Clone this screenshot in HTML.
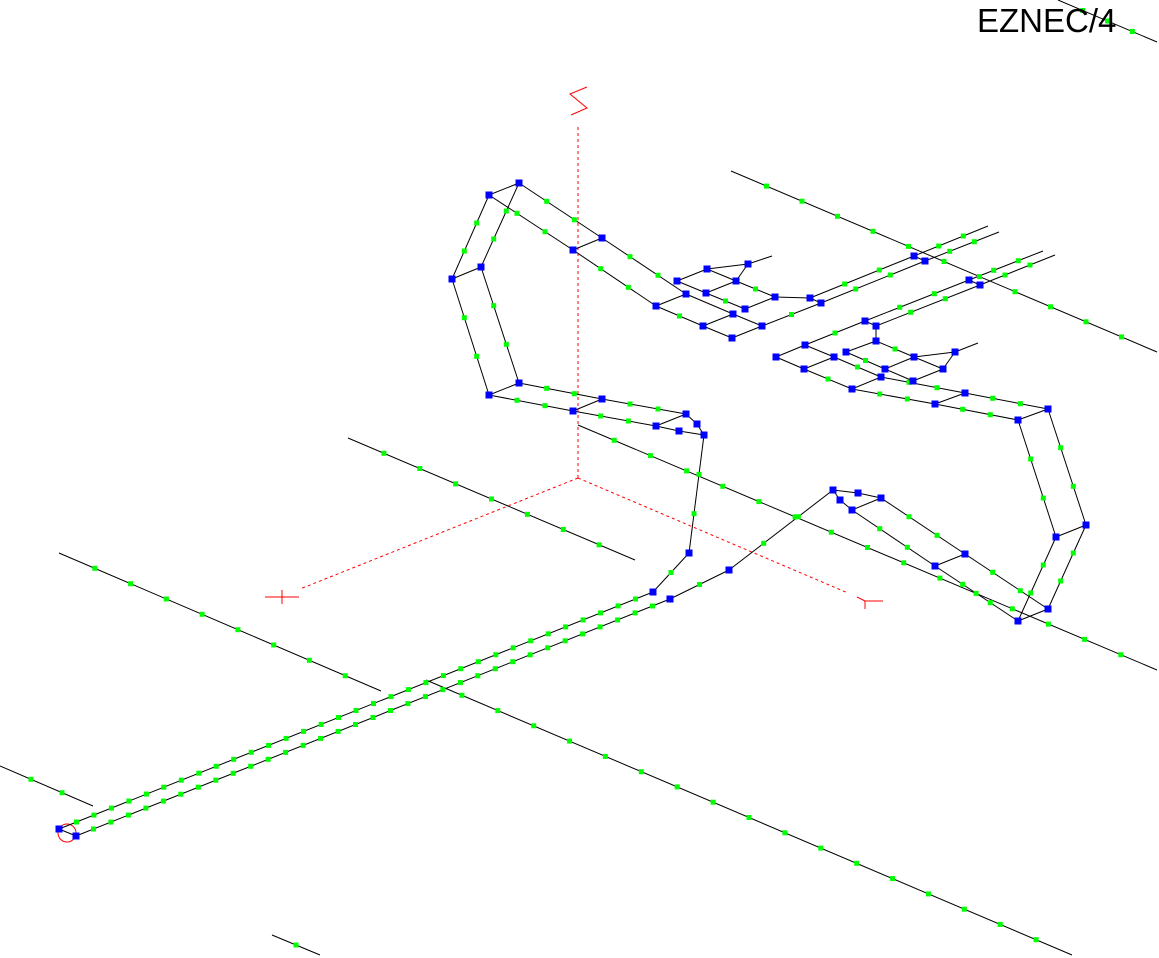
<!DOCTYPE html>
<html><head><meta charset="utf-8"><style>
html,body{margin:0;padding:0;background:#fff;width:1159px;height:958px;overflow:hidden}
svg{position:absolute;left:0;top:0}
.t{position:absolute;left:977px;top:2px;font-family:"Liberation Sans",sans-serif;font-size:33px;color:#000;letter-spacing:0px}
</style></head><body>
<svg id="s" width="1159" height="958" viewBox="0 0 1159 958">
<g stroke="#f00" stroke-width="1" fill="none">
<line x1="578" y1="127" x2="578" y2="478" stroke-dasharray="3,3"/>
<line x1="578" y1="478" x2="300" y2="589" stroke-dasharray="3,3"/>
<line x1="578" y1="478" x2="848" y2="593" stroke-dasharray="3,3"/>
<polyline points="587,87 570,94 587,108 571,115"/>
<line x1="265" y1="597" x2="299" y2="597"/><line x1="282" y1="590" x2="282" y2="604"/>
<polyline points="857,597 865,601 883,601"/><line x1="865" y1="601" x2="865" y2="609"/>
<circle cx="67" cy="833" r="9"/>
</g>
<g id="w" stroke="#000" stroke-width="1"></g>
<g id="d"></g>
</svg>
<div class="t">EZNEC/4</div>
<script>
var S=[
[519,183,602,238,2],[489,195,573,250,2],[489,195,519,183,0],[573,250,602,238,0],
[489,195,452,279,2],[519,183,481,267,2],[452,279,481,267,0],[452,279,489,395,2],[481,267,519,383,2],[489,395,519,383,0],
[519,383,602,399,2],[489,395,573,411,2],[573,411,602,399,0],[602,399,686,414,2],[573,411,656,426,2],[656,426,686,414,0],
[686,414,697,424,0],[697,424,704,435,0],[656,426,679,431,0],[679,431,704,435,0],
[704,435,689,553,2],[689,553,653,592,1],[653,592,59,829,33],[670,599,76,836,33],[59,829,76,836,0],
[670,599,729,570,1],[729,570,833,490,2],[833,490,858,493,0],[858,493,881,498,0],[833,490,840,500,0],[840,500,852,510,0],[852,510,881,498,0],
[881,498,965,554,2],[852,510,935,566,2],[935,566,965,554,0],[965,554,1048,609,2],[935,566,1018,621,2],[1018,621,1048,609,0],
[1048,409,1086,525,2],[1018,420,1056,537,2],[1056,537,1086,525,0],[1086,525,1048,609,2],[1056,537,1018,621,2],
[1048,409,1018,420,0],[1048,409,965,393,2],[1018,420,935,404,2],[965,393,935,404,0],[965,393,881,377,2],[935,404,852,389,2],[881,377,852,389,0],
[852,389,804,369,1],[804,369,776,357,0],[776,357,805,345,0],[805,345,865,321,1],[865,321,876,326,0],[876,326,876,341,0],
[804,369,834,357,0],[834,357,805,345,0],[834,357,881,377,1],[846,352,876,341,0],[846,352,885,369,1],[885,369,913,381,0],[885,369,914,357,0],
[876,341,914,357,1],[914,357,943,369,0],[943,369,913,381,0],[914,357,955,352,0],[955,352,978,343,0],[955,352,943,369,0],
[865,321,969,280,2],[876,326,980,285,2],[969,280,980,285,0],[969,280,1043,251,2],[980,285,1055,255,2],
[602,238,686,294,2],[573,250,656,306,2],[656,306,686,294,0],[686,294,733,314,0],[733,314,762,326,0],[656,306,703,326,1],[703,326,732,338,0],
[703,326,733,314,0],[732,338,762,326,0],[677,281,707,269,0],[677,281,706,293,0],[706,293,745,309,1],[706,293,736,281,0],[707,269,736,281,0],
[736,281,775,297,1],[745,309,775,297,0],[707,269,748,264,0],[748,264,736,281,0],[748,264,772,256,0],
[775,297,810,298,0],[762,326,821,303,1],[810,298,821,303,0],[810,298,914,256,2],[821,303,925,261,2],[914,256,925,261,0],[914,256,988,226,2],[925,261,999,232,2],
[731,171,1157,352,11],[1058,0,1157,42,3],[348,438,635,560,7],[578,425,1157,670,15],[59,553,381,691,8],[426,680,1072,955,17],[0,766,93,806,2],[272,935,320,955,1]
];
var B=[[519,183],[489,195],[452,279],[481,267],[519,383],[489,395],[602,238],[573,250],[602,399],[573,411],[686,414],[697,424],[656,426],[679,431],[704,435],
[689,553],[653,592],[670,599],[729,570],[59,829],[76,836],[833,490],[858,493],[881,498],[840,500],[852,510],[965,554],[935,566],[1048,609],[1018,621],
[1048,409],[1018,420],[1086,525],[1056,537],[965,393],[935,404],[881,377],[852,389],[804,369],[776,357],[805,345],[865,321],[876,326],[876,341],[834,357],[846,352],
[885,369],[913,381],[914,357],[943,369],[955,352],[969,280],[980,285],[677,281],[707,269],[748,264],[736,281],[706,293],[686,294],[656,306],[775,297],[745,309],[733,314],[703,326],[762,326],[732,338],
[810,298],[821,303],[914,256],[925,261]];
var ns="http://www.w3.org/2000/svg",w=document.getElementById('w'),d=document.getElementById('d');
function el(p,t,a){var e=document.createElementNS(ns,t);for(var k in a)e.setAttribute(k,a[k]);p.appendChild(e);}
S.forEach(function(s){el(w,'line',{x1:s[0],y1:s[1],x2:s[2],y2:s[3]});
for(var i=1;i<=s[4];i++){var f=i/(s[4]+1);el(d,'rect',{x:(s[0]+(s[2]-s[0])*f-2.5).toFixed(1),y:(s[1]+(s[3]-s[1])*f-2.5).toFixed(1),width:5,height:5,fill:'#0f0'});}});
B.forEach(function(b){el(d,'rect',{x:b[0]-3.5,y:b[1]-3.5,width:7,height:7,fill:'#00f'});});
</script>
</body></html>
